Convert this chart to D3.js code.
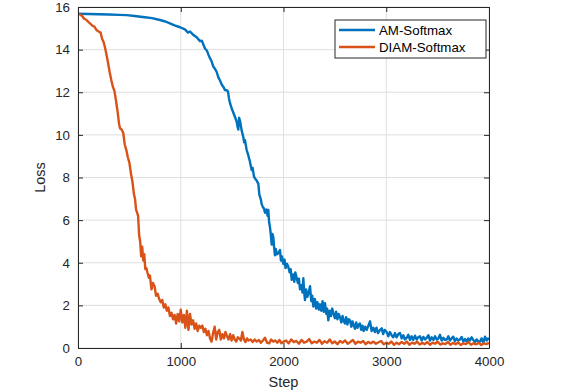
<!DOCTYPE html>
<html>
<head>
<meta charset="utf-8">
<script src="https://cdn.jsdelivr.net/npm/d3@7"></script>
<style>
    body { margin: 0; background: #fff; }
    svg { display: block; font-family: "Liberation Sans", Arial, sans-serif; }
</style>
</head>
<body>
<div id="chart"></div>
<script>
// values
const seriesNames = ["AM-Softmax", "DIAM-Softmax"];
const xTicks = [0, 1000, 2000, 3000, 4000];
const yTicks = [0, 2, 4, 6, 8, 10, 12, 14, 16];

const stepsAM = [0, 100, 200, 300, 400, 474, 550, 652, 720, 798, 850, 895, 940, 993, 1041, 1070, 1090, 1120, 1155, 1187,
    1205, 1219, 1236, 1255, 1270, 1285, 1300, 1317, 1333, 1350, 1366, 1382, 1400, 1415, 1431, 1447, 1460, 1470, 1479, 1495,
    1511, 1527, 1544, 1552, 1560, 1568, 1577, 1593, 1609, 1617, 1625, 1641, 1657, 1673, 1690, 1700, 1712, 1723, 1740, 1755,
    1765, 1778, 1788, 1800, 1810, 1820, 1835, 1845, 1852, 1860, 1869, 1877, 1885, 1893, 1901, 1909, 1917, 1925, 1935, 1950,
    1966, 1975, 1985, 1998, 2010, 2020, 2035, 2047, 2060, 2070, 2080, 2095, 2105, 2115, 2128, 2140, 2150, 2161, 2175, 2185,
    2193, 2200, 2209, 2220, 2232, 2245, 2258, 2270, 2280, 2290, 2305, 2318, 2330, 2345, 2355, 2368, 2380, 2392, 2404, 2416,
    2425, 2436, 2450, 2462, 2474, 2485, 2500, 2512, 2525, 2537, 2550, 2562, 2575, 2587, 2598, 2610, 2622, 2635, 2647, 2660,
    2672, 2684, 2696, 2708, 2720, 2732, 2744, 2756, 2768, 2780, 2795, 2810, 2826, 2842, 2858, 2874, 2890, 2905, 2920, 2940,
    2956, 2970, 2985, 3004, 3020, 3036, 3052, 3068, 3085, 3100, 3117, 3134, 3150, 3166, 3182, 3199, 3215, 3231, 3247, 3263,
    3280, 3296, 3312, 3328, 3345, 3361, 3377, 3394, 3410, 3426, 3442, 3459, 3475, 3491, 3507, 3523, 3540, 3556, 3572, 3588,
    3604, 3620, 3636, 3652, 3668, 3685, 3701, 3718, 3734, 3750, 3766, 3783, 3799, 3815, 3831, 3847, 3863, 3880, 3896, 3912,
    3928, 3945, 3961, 3977, 3990, 4000];
const lossAM = [15.68, 15.67, 15.66, 15.65, 15.63, 15.62, 15.58, 15.52, 15.48, 15.39, 15.32, 15.23, 15.14, 15.05, 14.95, 14.80, 14.85, 14.70, 14.58, 14.40,
    14.42, 14.25, 14.05, 13.95, 13.75, 13.60, 13.45, 13.20, 13.10, 12.95, 12.70, 12.55, 12.35, 12.25, 12.10, 12.10, 12.03, 11.70, 11.50, 11.25,
    11.05, 10.85, 10.62, 10.40, 10.25, 10.80, 10.65, 10.20, 9.90, 9.65, 9.75, 9.30, 9.05, 8.75, 8.35, 8.45, 8.05, 7.95, 7.85, 7.70,
    7.20, 7.00, 6.75, 6.60, 6.55, 6.35, 6.50, 6.20, 6.48, 5.90, 5.65, 5.30, 4.85, 5.35, 5.20, 4.70, 4.35, 4.65, 4.40, 4.45,
    4.60, 4.10, 4.30, 3.95, 4.15, 3.75, 3.95, 3.80, 3.55, 3.70, 3.20, 3.45, 3.10, 3.55, 3.30, 3.05, 3.25, 2.75, 2.95, 2.60,
    3.27, 2.70, 2.25, 2.75, 2.40, 2.60, 2.90, 2.20, 2.45, 1.95, 2.30, 1.85, 2.15, 1.80, 2.05, 1.75, 2.20, 1.70, 2.10, 1.60,
    1.85, 1.30, 1.75, 1.50, 1.85, 1.65, 1.40, 1.70, 1.35, 1.60, 1.45, 1.20, 1.50, 1.25, 1.15, 1.45, 1.10, 1.35, 1.30, 1.00,
    1.25, 1.05, 0.90, 1.20, 0.95, 1.10, 1.15, 0.85, 1.05, 0.80, 1.00, 0.85, 1.05, 1.25, 0.80, 0.95, 0.75, 0.95, 0.70, 0.85,
    0.92, 0.65, 0.85, 0.75, 0.55, 0.75, 0.60, 0.50, 0.70, 0.50, 0.65, 0.70, 0.45, 0.60, 0.40, 0.48, 0.62, 0.38, 0.55, 0.38,
    0.58, 0.40, 0.50, 0.55, 0.35, 0.52, 0.40, 0.48, 0.60, 0.35, 0.50, 0.38, 0.55, 0.40, 0.45, 0.62, 0.35, 0.48, 0.38, 0.40,
    0.55, 0.35, 0.45, 0.53, 0.32, 0.45, 0.35, 0.40, 0.52, 0.30, 0.42, 0.30, 0.45, 0.35, 0.50, 0.38, 0.28, 0.40, 0.30, 0.30,
    0.45, 0.25, 0.53, 0.35, 0.45, 0.38];

const stepsDIAM = [0, 20, 40, 60, 80, 100, 120, 140, 160, 180, 200, 220, 235, 250, 265, 280, 295, 310, 325, 340,
    355, 370, 385, 400, 410, 425, 440, 455, 470, 485, 500, 515, 530, 545, 555, 565, 575, 585, 595, 605,
    615, 625, 635, 645, 655, 665, 675, 690, 700, 715, 730, 745, 760, 775, 790, 805, 820, 835, 850, 865,
    880, 895, 910, 925, 940, 955, 970, 985, 1000, 1015, 1030, 1045, 1060, 1075, 1090, 1105, 1120, 1135, 1150, 1165,
    1180, 1195, 1210, 1225, 1240, 1255, 1270, 1285, 1300, 1315, 1330, 1345, 1360, 1375, 1390, 1405, 1420, 1435, 1450, 1465,
    1480, 1495, 1510, 1525, 1540, 1555, 1570, 1585, 1600, 1615, 1630, 1645, 1660, 1680, 1700, 1720, 1740, 1760, 1780, 1800,
    1820, 1840, 1860, 1880, 1900, 1920, 1940, 1960, 1980, 2000, 2025, 2050, 2075, 2100, 2125, 2150, 2175, 2200, 2225, 2250,
    2275, 2300, 2325, 2350, 2375, 2400, 2425, 2450, 2475, 2500, 2525, 2550, 2575, 2600, 2625, 2650, 2675, 2700, 2725, 2750,
    2775, 2800, 2825, 2850, 2875, 2900, 2925, 2950, 2975, 3000, 3025, 3050, 3075, 3100, 3125, 3150, 3175, 3200, 3225, 3250,
    3275, 3300, 3325, 3350, 3375, 3400, 3425, 3450, 3475, 3500, 3525, 3550, 3575, 3600, 3625, 3650, 3675, 3700, 3725, 3750,
    3775, 3800, 3825, 3850, 3875, 3900, 3925, 3950, 3975, 4000];
const lossDIAM = [15.70, 15.65, 15.58, 15.45, 15.40, 15.30, 15.22, 15.12, 15.08, 14.92, 14.85, 14.80, 14.50, 14.35, 14.05, 13.70, 13.30, 12.90, 12.55, 12.25,
    12.05, 11.60, 11.10, 10.50, 10.30, 10.25, 10.10, 9.55, 9.30, 8.95, 8.70, 8.20, 7.80, 7.20, 7.00, 6.50, 6.35, 6.20, 5.30, 5.00,
    4.30, 4.75, 4.10, 4.40, 3.70, 3.75, 3.55, 3.30, 3.40, 2.75, 3.05, 2.90, 2.45, 2.55, 2.30, 2.15, 2.25, 1.90, 2.05, 1.75,
    1.90, 1.50, 1.65, 1.35, 1.55, 1.15, 1.60, 1.25, 1.80, 1.20, 1.55, 0.95, 1.75, 0.85, 1.60, 1.10, 1.30, 0.90, 1.15, 0.80,
    1.05, 0.95, 1.05, 0.75, 0.90, 0.60, 0.80, 0.45, 0.30, 0.70, 1.00, 0.40, 0.75, 0.85, 0.40, 0.65, 0.45, 0.75, 0.55, 0.40,
    0.65, 0.35, 0.60, 0.40, 0.30, 0.50, 0.45, 0.35, 0.75, 0.40, 0.28, 0.45, 0.35, 0.40, 0.28, 0.40, 0.30, 0.38, 0.25, 0.35,
    0.48, 0.25, 0.22, 0.40, 0.30, 0.35, 0.25, 0.38, 0.22, 0.30, 0.35, 0.22, 0.40, 0.28, 0.33, 0.20, 0.38, 0.25, 0.30, 0.42,
    0.22, 0.30, 0.25, 0.38, 0.20, 0.32, 0.25, 0.40, 0.22, 0.30, 0.18, 0.33, 0.25, 0.35, 0.20, 0.28, 0.38, 0.20, 0.30, 0.25,
    0.33, 0.18, 0.28, 0.22, 0.30, 0.20, 0.27, 0.33, 0.18, 0.25, 0.20, 0.30, 0.15, 0.25, 0.18, 0.28, 0.20, 0.30, 0.15, 0.25,
    0.20, 0.30, 0.16, 0.24, 0.18, 0.28, 0.15, 0.25, 0.20, 0.30, 0.16, 0.22, 0.18, 0.28, 0.15, 0.24, 0.18, 0.26, 0.14, 0.22,
    0.18, 0.28, 0.15, 0.22, 0.17, 0.25, 0.14, 0.22, 0.18, 0.24];

const colors = ["#0072BD", "#D95319"];

function draw_chart() {
    const config = {
        width: 574,
        height: 392,
        margin: { top: 7, left: 78, bottom: 44, right: 85 },
        axisColor: "#262626",
        gridColor: "#dfdfdf",
        tickLen: 5,
        lineWidth: 2.4,
        fontSize: 13.3,
        titleSize: 14.5,
    };
    const x0 = config.margin.left, x1 = config.width - config.margin.right;
    const y0 = config.margin.top, y1 = config.height - config.margin.bottom;

    const svg = d3.select("#chart")
        .append("svg")
        .attr("width", config.width)
        .attr("height", config.height);

    const scale_x = d3.scaleLinear().domain([0, 4000]).range([x0, x1]);
    const scale_y = d3.scaleLinear().domain([0, 16]).range([y1, y0]);

    // grid
    const g_grid = svg.append("g");
    g_grid.selectAll(".gx").data(xTicks).join("line")
        .attr("x1", d => scale_x(d)).attr("x2", d => scale_x(d))
        .attr("y1", y0).attr("y2", y1)
        .attr("stroke", config.gridColor).attr("stroke-width", 1);
    g_grid.selectAll(".gy").data(yTicks).join("line")
        .attr("y1", d => scale_y(d)).attr("y2", d => scale_y(d))
        .attr("x1", x0).attr("x2", x1)
        .attr("stroke", config.gridColor).attr("stroke-width", 1);

    // lines
    svg.append("clipPath").attr("id", "clip")
        .append("rect").attr("x", x0).attr("y", y0 - 2)
        .attr("width", x1 - x0).attr("height", y1 - y0 + 2);

    const line = d3.line()
        .x(d => scale_x(d[0]))
        .y(d => scale_y(d[1]));

    const series = [
        d3.zip(stepsAM, lossAM),
        d3.zip(stepsDIAM, lossDIAM),
    ];
    svg.append("g").attr("clip-path", "url(#clip)")
        .selectAll("path").data(series).join("path")
        .attr("d", line)
        .attr("fill", "none")
        .attr("stroke", (d, i) => colors[i])
        .attr("stroke-width", config.lineWidth)
        .attr("stroke-linejoin", "round");

    // axes (MATLAB style: ticks inward, box on)
    const styleAxis = (g) => {
        g.select(".domain").attr("stroke", config.axisColor).attr("stroke-width", 1);
        g.selectAll(".tick line").attr("stroke", config.axisColor);
        g.selectAll("text").attr("fill", config.axisColor)
            .attr("font-size", config.fontSize)
            .attr("font-family", "Liberation Sans, Arial, sans-serif");
    };
    svg.append("g").attr("transform", `translate(0, ${y1})`)
        .call(d3.axisBottom(scale_x).tickValues(xTicks).tickFormat(d3.format("d"))
            .tickSize(-config.tickLen).tickSizeOuter(0).tickPadding(9))
        .call(styleAxis);
    svg.append("g").attr("transform", `translate(${x0}, 0)`)
        .call(d3.axisLeft(scale_y).tickValues(yTicks).tickFormat(d3.format("d"))
            .tickSize(-config.tickLen).tickSizeOuter(0).tickPadding(8))
        .call(styleAxis);
    svg.append("g").attr("transform", `translate(0, ${y0})`)
        .call(d3.axisTop(scale_x).tickValues(xTicks).tickSize(-config.tickLen).tickSizeOuter(0).tickFormat(""))
        .call(styleAxis);
    svg.append("g").attr("transform", `translate(${x1}, 0)`)
        .call(d3.axisRight(scale_y).tickValues(yTicks).tickSize(-config.tickLen).tickSizeOuter(0).tickFormat(""))
        .call(styleAxis);

    // axis titles
    svg.append("text")
        .attr("x", (x0 + x1) / 2).attr("y", 387)
        .attr("text-anchor", "middle")
        .attr("font-size", config.titleSize).attr("fill", config.axisColor)
        .text("Step");
    svg.append("text")
        .attr("transform", `translate(45, ${(y0 + y1) / 2}) rotate(-90)`)
        .attr("text-anchor", "middle")
        .attr("font-size", config.titleSize).attr("fill", config.axisColor)
        .text("Loss");

    // legend
    const lg = svg.append("g").attr("transform", "translate(335, 20)");
    lg.append("rect")
        .attr("width", 151).attr("height", 38)
        .attr("fill", "#fff").attr("stroke", config.axisColor).attr("stroke-width", 1);
    const items = lg.selectAll(".item").data(seriesNames).join("g")
        .attr("transform", (d, i) => `translate(0, ${10 + i * 17})`);
    items.append("line")
        .attr("x1", 4).attr("x2", 40)
        .attr("stroke", (d, i) => colors[i]).attr("stroke-width", config.lineWidth);
    items.append("text")
        .attr("x", 44).attr("dy", "0.35em")
        .attr("font-size", config.fontSize).attr("fill", "#000")
        .text(d => d);
}
draw_chart();
</script>
</body>
</html>
